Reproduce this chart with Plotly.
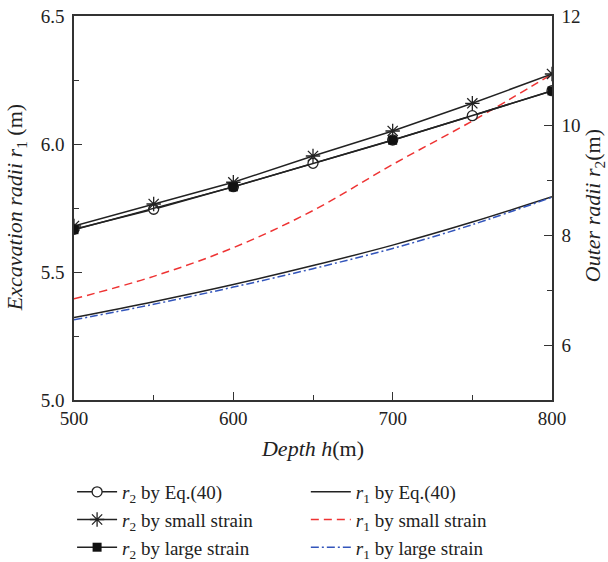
import plotly.graph_objects as go

# depth (m)
depth = [500, 550, 600, 650, 700, 750, 800]
depth_coarse = [500, 600, 700, 800]

# outer radii r2 (m) - right axis
r2_eq40 = [8.112, 8.477, 8.888, 9.315, 9.740, 10.183, 10.638]
r2_small = [8.172, 8.573, 8.969, 9.448, 9.904, 10.409, 10.943]
r2_large = [8.105, 8.885, 9.735, 10.635]

# excavation radii r1 (m) - left axis
r1_eq40 = [5.322, 5.384, 5.451, 5.525, 5.605, 5.695, 5.794]
r1_small = [5.395, 5.483, 5.595, 5.740, 5.920, 6.090, 6.273]
r1_large = [5.313, 5.374, 5.441, 5.513, 5.592, 5.685, 5.792]

FONT = "Liberation Serif"
AX = "#333333"
TXT = "#222222"

fig = go.Figure()

# r1 curves (left axis)
fig.add_trace(go.Scatter(
    x=depth, y=r1_eq40, mode="lines", line=dict(color="#222222", width=1.5, shape="spline"),
    name="<i>r</i><sub>1</sub> by Eq.(40)", legend="legend2", legendgroup="a", legendrank=1,
))
fig.add_trace(go.Scatter(
    x=depth, y=r1_small, mode="lines", line=dict(color="#ee3333", width=1.5, dash="8px,5px", shape="spline"),
    name="<i>r</i><sub>1</sub> by small strain", legend="legend2", legendgroup="b", legendrank=2,
))
fig.add_trace(go.Scatter(
    x=depth, y=r1_large, mode="lines", line=dict(color="#3355bb", width=1.5, dash="8px,3px,2px,3px", shape="spline"),
    name="<i>r</i><sub>1</sub> by large strain", legend="legend2", legendgroup="c", legendrank=3,
))

# r2 series (right axis)
fig.add_trace(go.Scatter(
    x=depth, y=r2_eq40, yaxis="y2", mode="lines+markers",
    line=dict(color="#222222", width=1.5),
    marker=dict(symbol="circle", size=10, color="white", line=dict(color="#222222", width=1.3)),
    name="<i>r</i><sub>2</sub> by Eq.(40)", legend="legend", legendgroup="d", legendrank=1,
))
fig.add_trace(go.Scatter(
    x=depth, y=r2_small, yaxis="y2", mode="lines+markers",
    line=dict(color="#222222", width=1.5),
    marker=dict(symbol="asterisk-open", size=12, color="#222222", line=dict(color="#222222", width=1.3)),
    name="<i>r</i><sub>2</sub> by small strain", legend="legend", legendgroup="e", legendrank=2,
))
fig.add_trace(go.Scatter(
    x=depth_coarse, y=r2_large, yaxis="y2", mode="lines+markers",
    line=dict(color="#222222", width=1.5),
    marker=dict(symbol="square", size=9, color="#111111"),
    name="<i>r</i><sub>2</sub> by large strain", legend="legend", legendgroup="f", legendrank=3,
))

legend_common = dict(
    font=dict(family=FONT, size=19, color=TXT),
    bgcolor="rgba(0,0,0,0)", yanchor="top", xanchor="left",
    orientation="v", tracegroupgap=0, itemwidth=40,
)

# axis titles for the two y axes placed as annotations
fig.add_annotation(
    text="<i>Excavation radii r</i><sub>1</sub> (m)", xref="paper", yref="paper",
    x=-0.121, y=0.5, xanchor="center", yanchor="middle", textangle=-90, showarrow=False,
    font=dict(family=FONT, size=22, color=TXT),
)
fig.add_annotation(
    text="<i>Outer radii r</i><sub>2</sub>(m)", xref="paper", yref="paper",
    x=1.088, y=0.505, xanchor="center", yanchor="middle", textangle=-90, showarrow=False,
    font=dict(family=FONT, size=22, color=TXT),
)

fig.update_layout(
    width=608, height=562,
    margin=dict(l=74, r=56, t=16, b=162, autoexpand=False),
    paper_bgcolor="white", plot_bgcolor="white",
    font=dict(family=FONT, size=19, color=TXT),
    showlegend=True,
    legend=dict(x=-0.004, y=-0.19, **legend_common),
    legend2=dict(x=0.485, y=-0.19, **legend_common),
    xaxis=dict(
        range=[500, 800], tickvals=[500, 600, 700, 800],
        ticks="inside", ticklen=8, tickwidth=1.3, tickcolor=AX,
        minor=dict(tickvals=[550, 650, 750], ticks="inside", ticklen=5, tickwidth=1.3, tickcolor=AX),
        showline=True, linecolor=AX, linewidth=1.5, mirror=True,
        showgrid=False, zeroline=False,
        title=dict(text="<i>Depth h</i>(m)", standoff=13, font=dict(family=FONT, size=22, color=TXT)),
        automargin=False,
    ),
    yaxis=dict(
        range=[5.0, 6.5], tickvals=[5.0, 5.5, 6.0, 6.5], ticktext=["5.0", "5.5", "6.0", "6.5"],
        ticks="inside", ticklen=8, tickwidth=1.3, tickcolor=AX,
        minor=dict(tickvals=[5.25, 5.75, 6.25], ticks="inside", ticklen=5, tickwidth=1.3, tickcolor=AX),
        showline=True, linecolor=AX, linewidth=1.5,
        showgrid=False, zeroline=False, ticklabelstandoff=4,
        automargin=False,
    ),
    yaxis2=dict(
        overlaying="y", side="right", range=[5, 12], tickvals=[6, 8, 10, 12],
        ticks="inside", ticklen=8, tickwidth=1.3, tickcolor=AX,
        minor=dict(tickvals=[7, 9], ticks="inside", ticklen=5, tickwidth=1.3, tickcolor=AX),
        showline=True, linecolor=AX, linewidth=1.5,
        showgrid=False, zeroline=False, ticklabelstandoff=4,
        automargin=False,
    ),
)

# drop the default 8px page margin so the 608x562 figure fills the window
fig.write_html(
    "out.html",
    config={"displayModeBar": False},
    post_script="document.body.style.margin='0px';",
)
